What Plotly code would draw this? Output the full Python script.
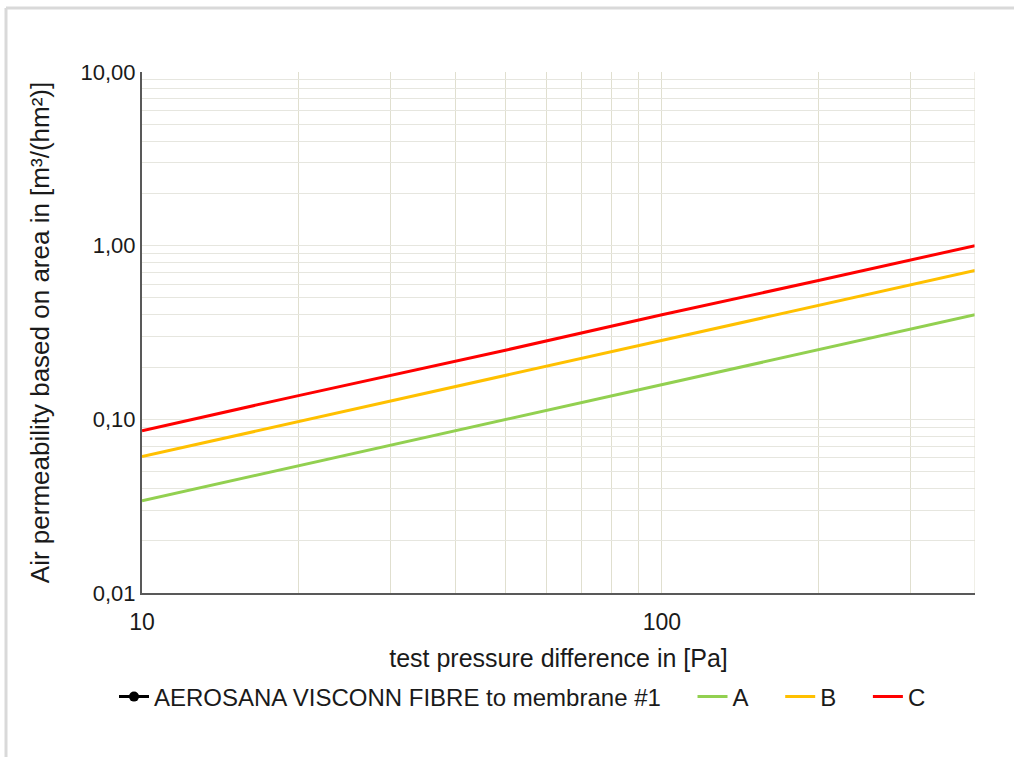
import plotly.graph_objects as go
import math

# Data (log-log)
pressure = [10, 20, 50, 100, 200, 400]
series_a = [0.034, 0.054, 0.099, 0.157, 0.25, 0.40]
series_b = [0.061, 0.097, 0.178, 0.284, 0.45, 0.72]
series_c = [0.086, 0.137, 0.25, 0.40, 0.63, 1.00]

x_grid = [20, 30, 40, 50, 60, 70, 80, 90, 100, 200, 300]
x_labels = {10: "10", 100: "100"}
y_decades = [0.01, 0.1, 1, 10]
y_labels = ["0,01", "0,10", "1,00", "10,00"]

W, H = 1014, 757
L, R, T, B = 142, 975, 72, 593

FONT = "Liberation Sans, Arial, sans-serif"
SP = "\u00a0" * 4

fig = go.Figure()
fig.add_trace(go.Scatter(x=[None], y=[None], mode="lines+markers",
                         name="AEROSANA VISCONN FIBRE to membrane #1" + SP,
                         line=dict(color="black", width=3),
                         marker=dict(color="black", size=10)))
fig.add_trace(go.Scatter(x=pressure, y=series_a, mode="lines", name="A" + SP,
                         line=dict(color="#92d050", width=3)))
fig.add_trace(go.Scatter(x=pressure, y=series_b, mode="lines", name="B" + SP,
                         line=dict(color="#ffc000", width=3)))
fig.add_trace(go.Scatter(x=pressure, y=series_c, mode="lines", name="C",
                         line=dict(color="#ff0000", width=3)))

# y grid values: 1..9 per decade
y_tickvals = []
y_ticktext = []
for d in [0.01, 0.1, 1]:
    for m in range(1, 10):
        v = round(d * m, 6)
        y_tickvals.append(v)
        y_ticktext.append(y_labels[y_decades.index(d)] if m == 1 else "")
y_tickvals.append(10)
y_ticktext.append("10,00")

x_tickvals = [10] + x_grid
x_ticktext = [x_labels.get(v, "") for v in x_tickvals]

fig.update_layout(
    width=W, height=H,
    margin=dict(l=L, r=W - R, t=T, b=H - B),
    paper_bgcolor="white", plot_bgcolor="white",
    font=dict(family=FONT, color="#1a1a1a", size=22),
    showlegend=True,
    legend=dict(orientation="h", x=(114 - L) / (R - L), xanchor="left",
                y=(B - 697) / (B - T), yanchor="middle",
                font=dict(size=24), tracegroupgap=0,
                bgcolor="rgba(0,0,0,0)"),
    xaxis=dict(type="log", range=[1, math.log10(400)],
               tickvals=x_tickvals, ticktext=x_ticktext,
               tickfont=dict(size=23),
               showgrid=True, gridcolor="#e0dfcf", gridwidth=1,
               showline=True, linecolor="#595959", linewidth=2,
               ticks="", ticklabelstandoff=7,
               title=dict(text="test pressure difference in [Pa]",
                          font=dict(size=25), standoff=16),
               zeroline=False),
    yaxis=dict(type="log", range=[-2, 1],
               tickvals=y_tickvals, ticktext=y_ticktext,
               tickfont=dict(size=22),
               showgrid=True, gridcolor="#e6e6df", gridwidth=1,
               showline=True, linecolor="#595959", linewidth=2,
               ticks="", ticklabelstandoff=0,
               title=dict(text="Air permeability based on area in [m³/(hm²)]",
                          font=dict(size=26), standoff=23),
               zeroline=False),
)

fig.add_shape(type="line", xref="x", yref="paper", x0=400, x1=400, y0=0, y1=1,
              line=dict(color="#e0dfcf", width=1))
# outer image frame (top and left light gray lines)
xl = (6 - L) / (R - L)
xr = (W - L) / (R - L)
yt = (B - 8) / (B - T)
yb = (B - H) / (B - T)
fig.add_shape(type="line", xref="paper", yref="paper", x0=xl, x1=xr, y0=yt, y1=yt,
              line=dict(color="#d9d9d9", width=3))
fig.add_shape(type="line", xref="paper", yref="paper", x0=xl, x1=xl, y0=yt, y1=yb,
              line=dict(color="#d9d9d9", width=3))

fig.write_html("out.html")
